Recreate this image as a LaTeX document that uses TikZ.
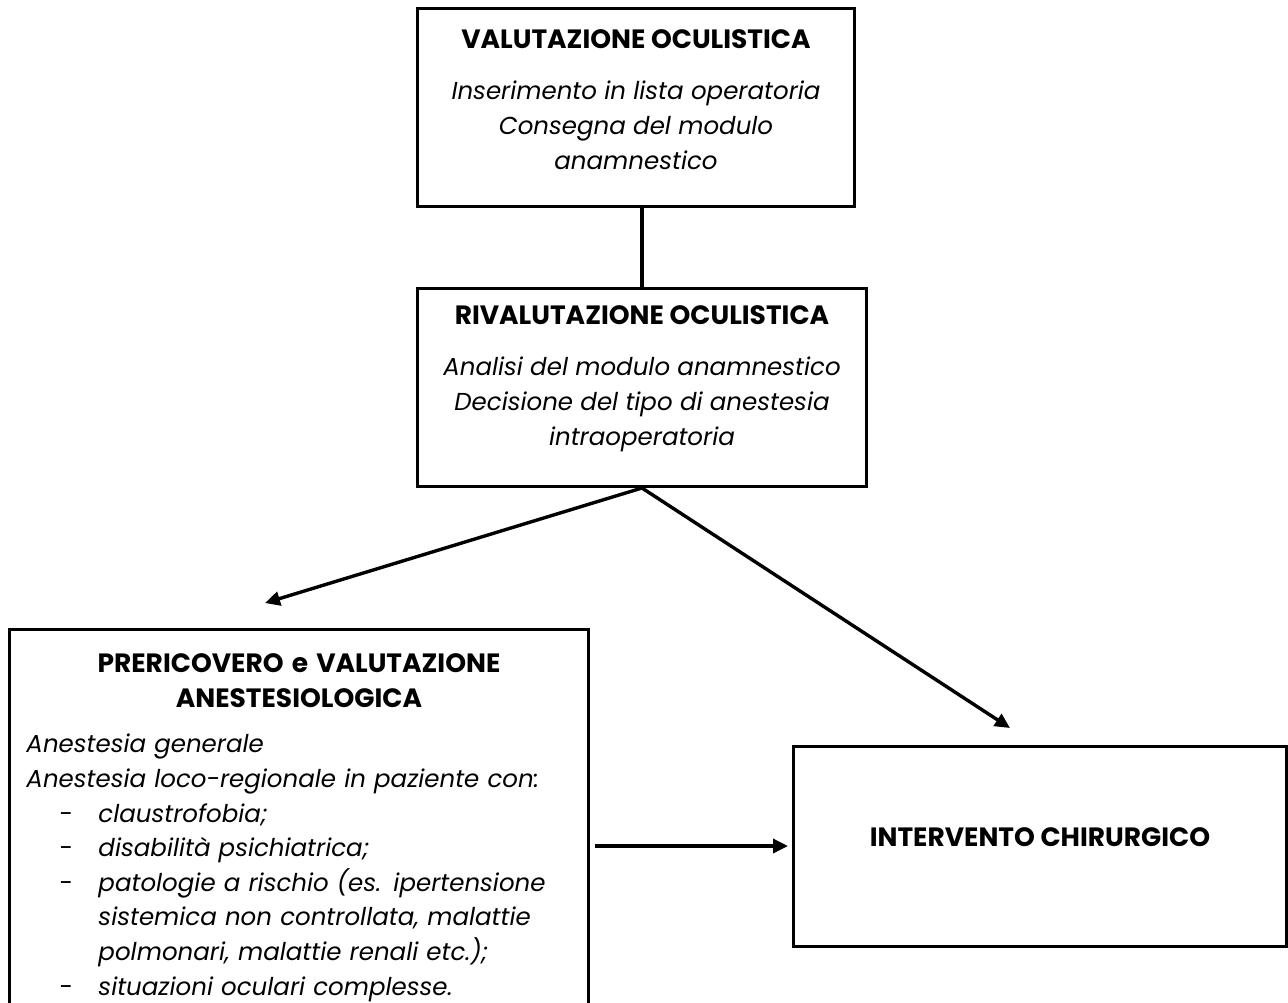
\documentclass[tikz,border=0pt]{standalone}
\usepackage{fontspec}
\setmainfont{Poppins}
\usetikzlibrary{arrows.meta, positioning}

\newcommand{\voce}[1]{\par\hangindent=72pt\hangafter=1\noindent\hspace*{33pt}\makebox[39pt][l]{-}\textit{#1}}
\newcommand{\titolo}[1]{{\fontsize{26.5}{35}\selectfont\bfseries #1}}

\begin{document}
\begin{tikzpicture}[x=1pt, y=1pt,
		box/.style={draw, line width=3pt, align=center, inner sep=0pt, anchor=north west,
			font=\fontsize{24.5}{35}\selectfont},
		arrow/.style={-{Triangle[length=15pt, width=14pt]}, line width=3.4pt}
		]
		\useasboundingbox (0,0) rectangle (1288,-1002);
		
		% Nodes
		\node[box, minimum width=437, minimum height=198] (valutazione) at (416,-7)
			{\titolo{VALUTAZIONE OCULISTICA}\\[16pt]
			\textit{Inserimento in lista operatoria}\\
			\textit{Consegna del modulo}\\
			\textit{anamnestico}\rule[-16pt]{0pt}{1pt}};
		
		\node[box, minimum width=449, minimum height=198] (rivalutazione) at (416,-287)
			{\titolo{RIVALUTAZIONE OCULISTICA}\\[16pt]
			\textit{Analisi del modulo anamnestico}\\
			\textit{Decisione del tipo di anestesia}\\
			\textit{intraoperatoria}\rule[-24pt]{0pt}{1pt}};
		
		\node[box, align=left, text width=545, inner xsep=17pt, inner ysep=24pt] (prericovero) at (8,-628)
			{{\centering\titolo{PRERICOVERO e VALUTAZIONE\\ ANESTESIOLOGICA}\par}
			\vspace{11pt}
			\fontsize{24.5}{34.6}\selectfont
			\textit{Anestesia generale}\par
			\textit{Anestesia loco-regionale in paziente con:}
			\voce{claustrofobia;}
			\voce{disabilità psichiatrica;}
			\voce{patologie a rischio (es. ipertensione\newline sistemica non controllata, malattie\newline polmonari, malattie renali etc.);}
			\voce{situazioni oculari complesse.}\par};
		
		\node[box, minimum width=493, minimum height=200] (intervento) at (792,-745)
			{\titolo{INTERVENTO CHIRURGICO}\rule[-18pt]{0pt}{1pt}};
		
		% Free ends of the arrows
		\coordinate (versoprericovero) at (265,-603);
		\coordinate (versointervento) at (1010,-728);
		\coordinate (uscita) at (595,-846);
		
		% Arrows
		\draw[line width=3.4pt] (rivalutazione.north |- valutazione.south) -- (rivalutazione.north);
		\draw[arrow] (rivalutazione.south) -- (versoprericovero);
		\draw[arrow] (rivalutazione.south) -- (versointervento);
		\draw[arrow, shorten >=4pt] (uscita) -- (intervento.west |- uscita);
		
	\end{tikzpicture}
\end{document}
